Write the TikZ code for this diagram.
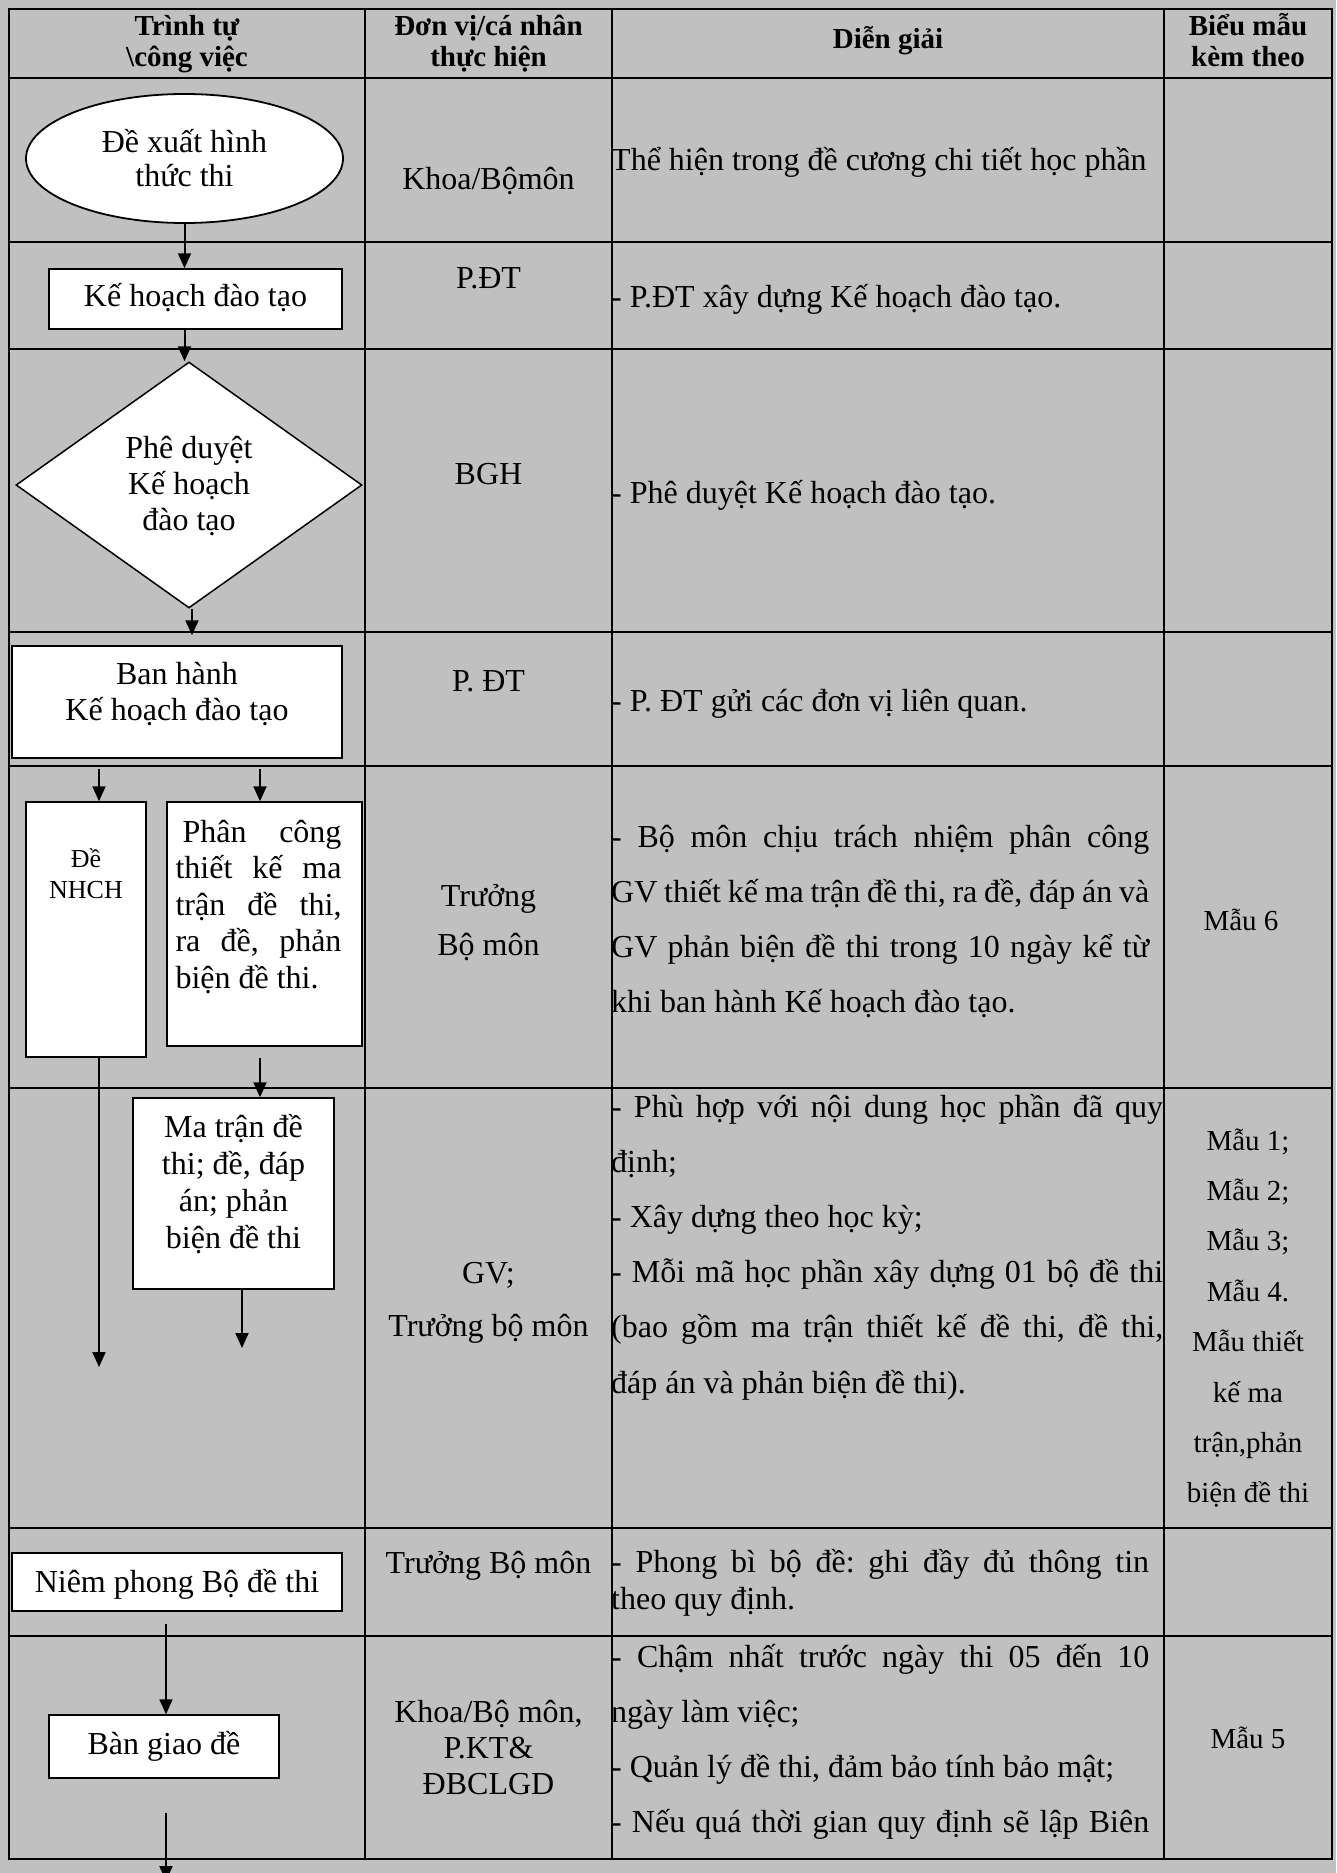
\documentclass[tikz,border=0pt]{standalone}
\usepackage{fontspec}
\setmainfont{Liberation Serif}
\usetikzlibrary{arrows.meta, shapes.geometric, calc}
\definecolor{cellgray}{HTML}{C0C0C0}
\newcommand{\jline}[2][538pt]{\makebox[#1][s]{#2}}
\frenchspacing

\begin{document}
\begin{tikzpicture}[
    x=1pt, y=-1pt,
    tableline/.style={line width=2pt},
    flowbox/.style={
        draw,
        fill=white,
        line width=1.5pt,
        inner sep=0pt,
        align=flush center,
        anchor=base,
        font=\fontsize{32}{37}\selectfont
    },
    term/.style={
        ellipse,
        draw,
        fill=white,
        line width=1.8pt,
        inner sep=0pt,
        align=flush center,
        font=\fontsize{32}{34}\selectfont
    },
    decision/.style={
        diamond,
        draw,
        fill=white,
        line width=1.5pt,
        inner sep=0pt,
        align=flush center,
        font=\fontsize{32}{36}\selectfont
    },
    head/.style={
        inner sep=0pt,
        align=flush center,
        anchor=base,
        text width=240pt,
        font=\bfseries\fontsize{29}{31}\selectfont
    },
    cell/.style={
        inner sep=0pt,
        align=flush center,
        anchor=base,
        text width=240pt,
        font=\fontsize{32}{#1}\selectfont
    },
    cell/.default=49,
    note/.style={
        inner sep=0pt,
        align=justify,
        anchor=base west,
        text width=560pt,
        font=\fontsize{32}{#1}\selectfont
    },
    note/.default=55,
    form/.style={
        inner sep=0pt,
        align=flush center,
        anchor=base,
        text width=160pt,
        font=\fontsize{29}{50.4}\selectfont
    },
    arrow/.style={-{Triangle[length=15pt, width=13pt]}, line width=2pt}
]

% page and table grid
\useasboundingbox (0,0) rectangle (1336,1873);
\fill[cellgray] (0,0) rectangle (1336,1873);
\draw[tableline] (9,9) rectangle (1332,1859);
\foreach \y in {78,242,349,632,766,1088,1528,1636}
    \draw[tableline] (9,\y) -- (1332,\y);
\foreach \x in {365,612,1164}
    \draw[tableline] (\x,9) -- (\x,1859);

% header
\node[head] (hstep) at (187,36) {Trình tự\\\textbackslash công việc};
\node[head] (hunit) at (488.5,36) {Đơn vị/cá nhân\\thực hiện};
\node[head] (hnote) at (888,49) {Diễn giải};
\node[head, text width=160pt] (hform) at (1248,36) {Biểu mẫu\\kèm theo};

% flow column
\node[term, text width=200pt, text height=22pt, text depth=35pt,
      minimum width=317pt, minimum height=129pt] (dexuat) at (184.5,158.5) {Đề xuất hình\\thức thi};
\node[flowbox, text width=293pt, text height=37pt, text depth=23pt] (kehoach) at (195.5,306) {Kế hoạch đào tạo};
\node[decision, text width=130pt, text height=20pt, text depth=74pt,
      minimum width=346pt, minimum height=246pt] (pheduyet) at (189,485) {Phê duyệt\\Kế hoạch\\đào tạo};
\node[flowbox, text width=330pt, text height=38pt, text depth=74pt,
      font=\fontsize{32}{36}\selectfont] (banhanh) at (177,684) {Ban hành\\Kế hoạch đào tạo};
\node[flowbox, text width=120pt, text height=65pt, text depth=190pt,
      font=\fontsize{26}{31}\selectfont] (denhch) at (86,867) {Đề\\NHCH};
\node[flowbox, align=justify, text width=195pt, text height=40pt, text depth=204pt,
      font=\fontsize{32}{36.5}\selectfont] (phancong) at (264.5,842)
    {\hspace*{8.5pt}\parbox[t]{166pt}{\jline[166pt]{\hspace{7pt}Phân công}\\
     \jline[166pt]{thiết kế ma}\\
     \jline[166pt]{trận đề thi,}\\
     \jline[166pt]{ra đề, phản}\\
     biện đề thi.}};
\node[flowbox, text width=201pt, text height=39pt, text depth=152pt] (matran) at (233.5,1137)
    {Ma trận đề\\thi; đề, đáp\\án; phản\\biện đề thi};
\node[flowbox, text width=330pt, text height=39pt, text depth=19pt] (niemphong) at (177,1592) {Niêm phong Bộ đề thi};
\node[flowbox, text width=230pt, text height=39pt, text depth=24pt] (bangiao) at (164,1754) {Bàn giao đề};

% unit column
\node[cell] (unit1) at (488.5,189) {Khoa/Bộmôn};
\node[cell] (unit2) at (488.5,288) {P.ĐT};
\node[cell] (unit3) at (488.5,484) {BGH};
\node[cell] (unit4) at (488.5,691) {P. ĐT};
\node[cell] (unit5) at (488.5,906) {Trưởng\\Bộ môn};
\node[cell=53] (unit6) at (488.5,1283) {GV;\\Trưởng bộ môn};
\node[cell] (unit7) at (488.5,1573) {Trưởng Bộ môn};
\node[cell=36] (unit8) at (488.5,1722) {Khoa/Bộ môn,\\P.KT\&\\ĐBCLGD};

% description column
\node[note] (note1) at (611,170) {Thể hiện trong đề cương chi tiết học phần};
\node[note] (note2) at (611,307) {- P.ĐT xây dựng Kế hoạch đào tạo.};
\node[note] (note3) at (611,503) {- Phê duyệt Kế hoạch đào tạo.};
\node[note] (note4) at (611,711) {- P. ĐT gửi các đơn vị liên quan.};
\node[note] (note5) at (611,847) {\jline{- Bộ môn chịu trách nhiệm phân công}\\
    \jline{GV thiết kế ma trận đề thi, ra đề, đáp án và}\\
    \jline{GV phản biện đề thi trong 10 ngày kể từ}\\
    khi ban hành Kế hoạch đào tạo.};
\node[note=55.2] (note6) at (611,1117) {\jline[552pt]{- Phù hợp với nội dung học phần đã quy}\\
    định;\\
    - Xây dựng theo học kỳ;\\
    \jline[552pt]{- Mỗi mã học phần xây dựng 01 bộ đề thi}\\
    \jline[552pt]{(bao gồm ma trận thiết kế đề thi, đề thi,}\\
    đáp án và phản biện đề thi).};
\node[note=37] (note7) at (611,1572) {\jline{- Phong bì bộ đề: ghi đầy đủ thông tin}\\
    theo quy định.};
\node[note] (note8) at (611,1667) {\jline{- Chậm nhất trước ngày thi 05 đến 10}\\
    ngày làm việc;\\
    - Quản lý đề thi, đảm bảo tính bảo mật;\\
    \jline{- Nếu quá thời gian quy định sẽ lập Biên}};

% form column
\node[form] (form5) at (1241,930) {Mẫu 6};
\node[form] (form6) at (1248,1150) {Mẫu 1;\\Mẫu 2;\\Mẫu 3;\\Mẫu 4.\\Mẫu thiết\\kế ma\\trận,phản\\biện đề thi};
\node[form] (form8) at (1248,1748) {Mẫu 5};

% connectors
\coordinate (splitL) at (99,769);
\coordinate (splitR) at (260,769);
\coordinate (endL) at (99,1367);
\coordinate (endM) at (242,1348);
\coordinate (endB) at (166,1881);

\draw[arrow] (dexuat.south) -- (dexuat.south |- kehoach.north);
\draw[arrow] (kehoach.south -| dexuat.south) -- (dexuat.south |- pheduyet.north);
\draw[arrow] ($(pheduyet.south)+(3,0)$) -- ($(pheduyet.south |- banhanh.north)+(3,-10)$);
\draw[arrow] (splitL) -- (splitL |- denhch.north);
\draw[arrow] (splitR) -- (splitR |- phancong.north);
\draw[arrow] (denhch.south -| endL) -- (endL);
\draw[arrow] ($(phancong.south -| splitR)+(0,11)$) -- (splitR |- matran.north);
\draw[arrow] (matran.south -| endM) -- (endM);
\draw[arrow] ($(niemphong.south -| endB)+(0,12)$) -- (endB |- bangiao.north);
\draw[arrow] ($(bangiao.south -| endB)+(0,34)$) -- (endB);

\end{tikzpicture}
\end{document}
